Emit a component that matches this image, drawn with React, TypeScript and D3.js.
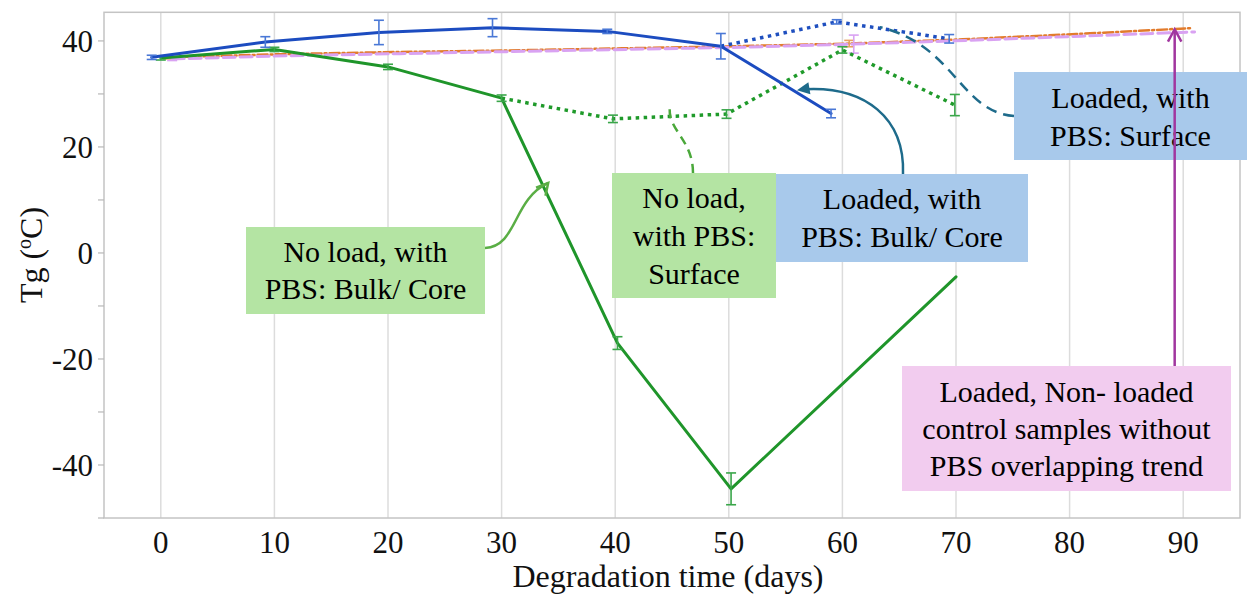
import * as d3 from 'd3'

// Tg vs degradation time
const xTicks = [0, 10, 20, 30, 40, 50, 60, 70, 80, 90]
const yTicks = [40, 20, 0, -20, -40]
const yMinor = [30, 10, -10, -30, -50]

// Loaded, with PBS: Bulk/ Core (solid blue)
const loadedBulkX = [-0.8, 9.2, 19.2, 29.2, 39.3, 49.3, 59.0]
const loadedBulkY = [36.9, 39.8, 41.6, 42.5, 41.8, 39.0, 26.3]
const loadedBulkErr = [0.4, 1.0, 2.3, 1.7, 0.4, 2.4, 0.8]

// Loaded, with PBS: Surface (dotted blue)
const loadedSurfX = [49.3, 59.5, 69.4]
const loadedSurfY = [39.0, 43.6, 40.4]
const loadedSurfErr = [0, 0.4, 0.8]

// No load, with PBS: Bulk/ Core (solid green)
const noLoadBulkX = [0, 10, 20, 30, 40.2, 50.2, 70]
const noLoadBulkY = [36.8, 38.4, 35.1, 29.2, -17.0, -44.5, -4.5]
const noLoadBulkErr = [0.4, 0.4, 0.5, 0.6, 1.2, 3.0, 0]

// No load, with PBS: Surface (dotted green)
const noLoadSurfX = [30, 39.8, 49.8, 60, 69.9]
const noLoadSurfY = [29.2, 25.3, 26.2, 38.3, 27.9]
const noLoadSurfErr = [0, 0.7, 0.8, 0.6, 2.0]

// Control samples without PBS (loaded / non-loaded, overlapping)
const ctrlLoadedX = [0.6, 10.6, 20.6, 30.6, 40.6, 50.6, 60.6, 70.6, 80.6, 90.6]
const ctrlLoadedY = [36.9, 37.5, 37.9, 38.2, 38.6, 39.0, 39.5, 40.3, 41.3, 42.4]
const ctrlLoadedErr = [0.3, 0, 0, 0, 0, 0, 0.6, 0, 0, 0]
const ctrlNoLoadX = [1, 11, 21, 31, 41, 51, 61, 71, 81, 91]
const ctrlNoLoadY = [36.6, 37.2, 37.6, 38.0, 38.4, 38.8, 39.4, 40.1, 40.9, 41.7]
const ctrlNoLoadErr = [0.3, 0, 0, 0, 0, 0, 1.7, 0, 0, 0]

const W = 1249
const H = 598
const FONT = "'Liberation Serif', 'Times New Roman', serif"

const x = d3.scaleLinear().domain([-5, 95]).range([104, 1240])
const y = d3.scaleLinear().domain([-50, 45.4]).range([518, 12.3])

type Pt = { x: number; y: number; e: number }
const zip = (xs: number[], ys: number[], es: number[]): Pt[] =>
  xs.map((v, i) => ({ x: v, y: ys[i], e: es[i] }))

const line = d3
  .line<Pt>()
  .x(d => x(d.x))
  .y(d => y(d.y))

const series = [
  { pts: zip(ctrlLoadedX, ctrlLoadedY, ctrlLoadedErr), color: '#e27b2c', width: 2.5, dash: '10,3,2,3', err: '#e8a060' },
  { pts: zip(ctrlNoLoadX, ctrlNoLoadY, ctrlNoLoadErr), color: '#d9a2f2', width: 3, dash: '12,5', err: '#d9a2f2' },
  { pts: zip(noLoadSurfX, noLoadSurfY, noLoadSurfErr), color: '#1f9a2a', width: 3.5, dash: '3.5,4.5', err: '#3aa64a' },
  { pts: zip(noLoadBulkX, noLoadBulkY, noLoadBulkErr), color: '#1f952a', width: 3, dash: null, err: '#3aa64a' },
  { pts: zip(loadedSurfX, loadedSurfY, loadedSurfErr), color: '#1f4fbf', width: 3.5, dash: '3.5,4.5', err: '#4a78d6' },
  { pts: zip(loadedBulkX, loadedBulkY, loadedBulkErr), color: '#1c4cc0', width: 3, dash: null, err: '#4a78d6' },
]

const boxes = [
  { x: 246, y: 227, w: 239, h: 87, fill: '#b4e4a3', lines: ['No load, with', 'PBS: Bulk/ Core'], base: 262, lh: 37 },
  { x: 612, y: 173, w: 164, h: 125, fill: '#b4e4a3', lines: ['No load,', 'with PBS:', 'Surface'], base: 208, lh: 38 },
  { x: 776, y: 174, w: 252, h: 88, fill: '#a8c9eb', lines: ['Loaded, with', 'PBS: Bulk/ Core'], base: 209, lh: 38 },
  { x: 1014, y: 72, w: 233, h: 88, fill: '#a8c9eb', lines: ['Loaded, with', 'PBS: Surface'], base: 108, lh: 38 },
  { x: 902, y: 366, w: 329, h: 125, fill: '#f2ccef', lines: ['Loaded, Non- loaded', 'control samples without', 'PBS overlapping trend'], base: 402, lh: 37 },
]

function openHead(tx: number, ty: number, angle: number, len = 13, spread = 0.5) {
  const a1 = angle + Math.PI - spread
  const a2 = angle + Math.PI + spread
  return `M${tx + len * Math.cos(a1)},${ty + len * Math.sin(a1)} L${tx},${ty} L${tx + len * Math.cos(a2)},${ty + len * Math.sin(a2)}`
}
function filledHead(tx: number, ty: number, angle: number, len = 14, spread = 0.45) {
  const a1 = angle + Math.PI - spread
  const a2 = angle + Math.PI + spread
  return `M${tx},${ty} L${tx + len * Math.cos(a1)},${ty + len * Math.sin(a1)} L${tx + len * Math.cos(a2)},${ty + len * Math.sin(a2)} Z`
}

export default function App() {
  // annotation anchor points, in data units
  const gTip = [x(34.1), y(13.2)]
  const tTip = [x(56.0), y(30.7)]
  const gdEnd = [x(44.8), y(27.3)]
  const tdEnd = [x(63.3), y(42.6)]
  const pTip = [x(89.25), y(42.2)]

  return (
    <svg width={W} height={H} style={{ position: 'absolute', left: 0, top: 0, background: '#fff', fontFamily: FONT }}>
      {/* vertical gridlines */}
      {xTicks.map(t => (
        <line key={t} x1={x(t)} x2={x(t)} y1={y(45.4)} y2={y(-50)} stroke="#dcdcdc" strokeWidth={1.5} />
      ))}
      {/* frame */}
      <rect x={104} y={12.3} width={1136} height={505.7} fill="none" stroke="#c4c4c4" strokeWidth={1.5} />
      {/* y ticks */}
      {[...yTicks, ...yMinor].map(t => (
        <line key={'yt' + t} x1={98} x2={104} y1={y(t)} y2={y(t)} stroke="#b8b8b8" strokeWidth={1.2} />
      ))}
      {yTicks.map(t => (
        <text key={'yl' + t} x={93} y={y(t)} dy="0.35em" textAnchor="end" fontSize={31} fill="#111" fontFamily={FONT}>
          {t}
        </text>
      ))}
      {xTicks.map(t => (
        <text key={'xl' + t} x={x(t)} y={553} textAnchor="middle" fontSize={31} fill="#111" fontFamily={FONT}>
          {t}
        </text>
      ))}
      <text x={668} y={587} textAnchor="middle" fontSize={32} fill="#111" fontFamily={FONT}>
        Degradation time (days)
      </text>
      <text transform="translate(42,255) rotate(-90)" textAnchor="middle" fontSize={32} fill="#111" fontFamily={FONT}>
        Tg (<tspan fontSize={20} dy={-11}>o</tspan>
        <tspan dy={11}>C)</tspan>
      </text>

      {/* series */}
      {series.map((s, i) => (
        <g key={i}>
          <path d={line(s.pts) ?? ''} fill="none" stroke={s.color} strokeWidth={s.width}
            strokeDasharray={s.dash ?? undefined} strokeLinejoin="round" strokeLinecap={s.dash && s.dash.startsWith('3') ? 'butt' : 'round'} />
          {s.pts.filter(p => p.e > 0).map((p, j) => (
            <g key={j} stroke={s.err} strokeWidth={1.6}>
              <line x1={x(p.x)} x2={x(p.x)} y1={y(p.y + p.e)} y2={y(p.y - p.e)} />
              <line x1={x(p.x) - 5} x2={x(p.x) + 5} y1={y(p.y + p.e)} y2={y(p.y + p.e)} />
              <line x1={x(p.x) - 5} x2={x(p.x) + 5} y1={y(p.y - p.e)} y2={y(p.y - p.e)} />
            </g>
          ))}
        </g>
      ))}

      {/* callout connectors */}
      <path d={`M485,248 C518,246 512,200 ${gTip[0]},${gTip[1]}`} fill="none" stroke="#5aae45" strokeWidth={2.5} />
      <path d={openHead(gTip[0], gTip[1], Math.atan2(-14, 12))} fill="none" stroke="#5aae45" strokeWidth={2.5} />
      <path d={`M693,173 C693,140 668,130 ${gdEnd[0]},${gdEnd[1]}`} fill="none" stroke="#4aa83a" strokeWidth={2.5} strokeDasharray="9,6" />
      <path d={`M903,174 C905,118 865,86 ${tTip[0] + 8},${tTip[1] - 1}`} fill="none" stroke="#1e6b8b" strokeWidth={2.5} />
      <path d={filledHead(tTip[0], tTip[1], Math.atan2(2, -12))} fill="#1e6b8b" />
      <path d={`M1014,116 C960,112 955,45 ${tdEnd[0]},${tdEnd[1]}`} fill="none" stroke="#1e6b8b" strokeWidth={2.5} strokeDasharray="11,7" />

      {/* annotation boxes */}
      {boxes.map((b, i) => (
        <g key={'b' + i}>
          <rect x={b.x} y={b.y} width={b.w} height={b.h} fill={b.fill} />
          {b.lines.map((t, k) => (
            <text key={k} x={b.x + b.w / 2} y={b.base + k * b.lh} textAnchor="middle" fontSize={30} fill="#000" fontFamily={FONT}>
              {t}
            </text>
          ))}
        </g>
      ))}

      {/* control-sample arrow */}
      <line x1={pTip[0]} x2={pTip[0]} y1={366} y2={pTip[1]} stroke="#a1369f" strokeWidth={2.5} />
      <path d={openHead(pTip[0], pTip[1], -Math.PI / 2, 14, 0.5)} fill="none" stroke="#a1369f" strokeWidth={2.5} />
    </svg>
  )
}
